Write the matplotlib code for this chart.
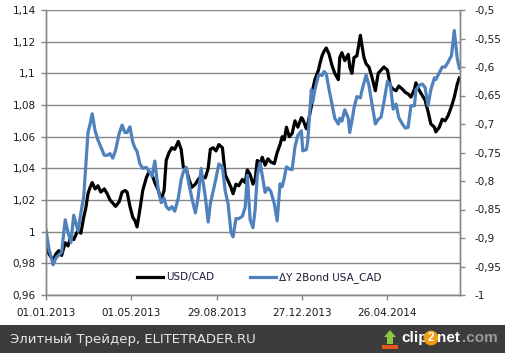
import matplotlib
matplotlib.use("Agg")
import matplotlib.pyplot as plt
from matplotlib.patches import Rectangle, Polygon
import pandas as pd

# даты наблюдений
dates = [
    "2013-01-01", "2013-01-05", "2013-01-11", "2013-01-15", "2013-01-19", "2013-01-23",
    "2013-01-28", "2013-02-01", "2013-02-05", "2013-02-09", "2013-02-15", "2013-02-19",
    "2013-02-23", "2013-02-26", "2013-03-01", "2013-03-04", "2013-03-07", "2013-03-11",
    "2013-03-15", "2013-03-19", "2013-03-24", "2013-03-28", "2013-04-01", "2013-04-05",
    "2013-04-09", "2013-04-14", "2013-04-18", "2013-04-22", "2013-04-25", "2013-04-29",
    "2013-05-03", "2013-05-06", "2013-05-09", "2013-05-13", "2013-05-17", "2013-05-22",
    "2013-05-26", "2013-05-30", "2013-06-03", "2013-06-08", "2013-06-12", "2013-06-16",
    "2013-06-19", "2013-06-23", "2013-06-27", "2013-07-01", "2013-07-06", "2013-07-10",
    "2013-07-13", "2013-07-17", "2013-07-21", "2013-07-25", "2013-07-30", "2013-08-03",
    "2013-08-07", "2013-08-13", "2013-08-17", "2013-08-20", "2013-08-24", "2013-08-28",
    "2013-09-01", "2013-09-06", "2013-09-10", "2013-09-14", "2013-09-18", "2013-09-21",
    "2013-09-25", "2013-09-29", "2013-10-04", "2013-10-08", "2013-10-11", "2013-10-15",
    "2013-10-19", "2013-10-22", "2013-10-25", "2013-10-29", "2013-11-01", "2013-11-05",
    "2013-11-09", "2013-11-13", "2013-11-18", "2013-11-22", "2013-11-26", "2013-11-29",
    "2013-12-02", "2013-12-05", "2013-12-09", "2013-12-13", "2013-12-17", "2013-12-21",
    "2013-12-26", "2013-12-28", "2014-01-02", "2014-01-04", "2014-01-09", "2014-01-11",
    "2014-01-14", "2014-01-19", "2014-01-21", "2014-01-24", "2014-01-27", "2014-01-30",
    "2014-02-03", "2014-02-07", "2014-02-11", "2014-02-16", "2014-02-18", "2014-02-21",
    "2014-02-25", "2014-03-02", "2014-03-04", "2014-03-07", "2014-03-10", "2014-03-14",
    "2014-03-19", "2014-03-21", "2014-03-24", "2014-03-27", "2014-03-31", "2014-04-04",
    "2014-04-09", "2014-04-13", "2014-04-17", "2014-04-21", "2014-04-26", "2014-04-30",
    "2014-05-04", "2014-05-08", "2014-05-12", "2014-05-17", "2014-05-21", "2014-05-25",
    "2014-05-29", "2014-06-03", "2014-06-05", "2014-06-10", "2014-06-14", "2014-06-18",
    "2014-06-22", "2014-06-26", "2014-07-01", "2014-07-03", "2014-07-08", "2014-07-12",
    "2014-07-16", "2014-07-20", "2014-07-25", "2014-07-29", "2014-08-02", "2014-08-05",
]

# USD/CAD (левая ось)
usd_cad = [
    0.990, 0.986, 0.982, 0.986, 0.988, 0.985, 0.993, 0.991, 0.997, 0.995, 1.001, 0.999,
    1.009, 1.015, 1.024, 1.028, 1.031, 1.027, 1.029, 1.025, 1.027, 1.024, 1.020, 1.018,
    1.016, 1.019, 1.025, 1.026, 1.025, 1.016, 1.009, 1.007, 1.003, 1.014, 1.026, 1.034,
    1.038, 1.036, 1.031, 1.026, 1.020, 1.026, 1.045, 1.050, 1.053, 1.052, 1.057, 1.052,
    1.041, 1.040, 1.033, 1.028, 1.030, 1.033, 1.035, 1.034, 1.040, 1.052, 1.053, 1.051,
    1.055, 1.053, 1.036, 1.032, 1.028, 1.024, 1.030, 1.029, 1.033, 1.031, 1.039, 1.036,
    1.030, 1.033, 1.045, 1.043, 1.047, 1.042, 1.046, 1.044, 1.043, 1.050, 1.055, 1.060,
    1.058, 1.066, 1.060, 1.062, 1.070, 1.066, 1.072, 1.071, 1.065, 1.068, 1.079, 1.090,
    1.096, 1.102, 1.106, 1.111, 1.114, 1.116, 1.112, 1.105, 1.100, 1.096, 1.110, 1.113,
    1.108, 1.112, 1.104, 1.100, 1.110, 1.111, 1.124, 1.118, 1.110, 1.106, 1.104, 1.098,
    1.089, 1.100, 1.102, 1.104, 1.102, 1.092, 1.090, 1.089, 1.092, 1.090, 1.088, 1.087,
    1.085, 1.090, 1.094, 1.089, 1.086, 1.083, 1.076, 1.068, 1.066, 1.063, 1.066, 1.071,
    1.070, 1.073, 1.079, 1.085, 1.093, 1.097,
]

# ΔY 2Bond USA_CAD (правая ось)
bond_spread = [
    -0.886, -0.918, -0.947, -0.935, -0.930, -0.925, -0.868, -0.890, -0.908, -0.860, -0.888, -0.856,
    -0.828, -0.770, -0.715, -0.700, -0.682, -0.712, -0.728, -0.740, -0.755, -0.755, -0.752, -0.760,
    -0.745, -0.716, -0.702, -0.715, -0.715, -0.705, -0.732, -0.742, -0.748, -0.770, -0.778, -0.776,
    -0.783, -0.792, -0.765, -0.818, -0.838, -0.830, -0.845, -0.850, -0.845, -0.853, -0.830, -0.798,
    -0.784, -0.776, -0.806, -0.830, -0.856, -0.828, -0.778, -0.828, -0.872, -0.840, -0.818, -0.795,
    -0.770, -0.775, -0.818, -0.840, -0.890, -0.898, -0.866, -0.866, -0.862, -0.846, -0.790, -0.868,
    -0.882, -0.850, -0.790, -0.768, -0.790, -0.820, -0.812, -0.818, -0.840, -0.870, -0.805, -0.810,
    -0.795, -0.775, -0.779, -0.780, -0.740, -0.720, -0.712, -0.747, -0.745, -0.730, -0.640, -0.662,
    -0.640, -0.615, -0.613, -0.615, -0.608, -0.612, -0.640, -0.665, -0.690, -0.700, -0.690, -0.695,
    -0.675, -0.690, -0.715, -0.695, -0.672, -0.652, -0.654, -0.642, -0.628, -0.614, -0.632, -0.663,
    -0.700, -0.692, -0.688, -0.662, -0.625, -0.630, -0.674, -0.665, -0.689, -0.700, -0.707, -0.706,
    -0.668, -0.668, -0.640, -0.632, -0.630, -0.636, -0.668, -0.640, -0.619, -0.622, -0.610, -0.600,
    -0.600, -0.592, -0.580, -0.536, -0.584, -0.602,
]

left_ticks = [0.96, 0.98, 1.0, 1.02, 1.04, 1.06, 1.08, 1.1, 1.12, 1.14]
right_ticks = [-1.0, -0.95, -0.9, -0.85, -0.8, -0.75, -0.7, -0.65, -0.6, -0.55, -0.5]
x_tick_dates = ["2013-01-01", "2013-05-01", "2013-08-29", "2013-12-27", "2014-04-26"]
x_start, x_end = "2013-01-01", "2014-08-06"

COLOR_USD = "#000000"
COLOR_BOND = "#4F81BD"
GRID = "#868686"
TXT = "#1a1a1a"


def comma(v):
    return f"{v:g}".replace(".", ",")


x = pd.to_datetime(dates)

fig = plt.figure(figsize=(5.06, 3.53), dpi=100)
fig.patch.set_facecolor("white")
ax = fig.add_axes([46 / 506, 1 - 295 / 353, 414 / 506, 285 / 353])
ax2 = ax.twinx()

l_usd, = ax.plot(x, usd_cad, color=COLOR_USD, linewidth=2.3, solid_joinstyle="round")
l_bond, = ax2.plot(x, bond_spread, color=COLOR_BOND, linewidth=2.3, solid_joinstyle="round")

ax.set_xlim(pd.Timestamp(x_start), pd.Timestamp(x_end))
ax.set_ylim(0.96, 1.14)
ax2.set_ylim(-1.0, -0.5)

ax.set_yticks(left_ticks)
ax.set_yticklabels([comma(v) for v in left_ticks])
ax2.set_yticks(right_ticks)
ax2.set_yticklabels([comma(v) for v in right_ticks])
xt = pd.to_datetime(x_tick_dates)
ax.set_xticks(xt)
ax.set_xticklabels([d.strftime("%d.%m.%Y") for d in xt])

# сетка только по левой оси
ax.set_axisbelow(True)
ax.grid(True, axis="y", color=GRID, linewidth=1.0)
ax.grid(False, axis="x")

for a in (ax, ax2):
    a.spines["top"].set_visible(False)
    for s in ("left", "right", "bottom"):
        a.spines[s].set_color(GRID)
        a.spines[s].set_linewidth(1.0)
    a.tick_params(colors=GRID, labelcolor=TXT, labelsize=7.5, length=3.5, width=1.0, direction="out")

ax.tick_params(axis="y", pad=4)
ax2.tick_params(axis="y", pad=7)
ax.tick_params(axis="x", pad=6)

ax2.legend([l_usd, l_bond], ["USD/CAD", "ΔY 2Bond USA_CAD"], loc="center",
           bbox_to_anchor=(0.516, 0.06), ncol=2, frameon=False, fontsize=7.5,
           handlelength=2.5, handletextpad=0.3, columnspacing=3.4, labelcolor="#1a1a3a")

# нижняя плашка
fig.patches.append(Rectangle((0, 0), 1, 28 / 353, transform=fig.transFigure,
                             facecolor="#3c3c3c", edgecolor="none", zorder=0))
fig.text(10 / 506, 1 - 339 / 353, "Элитный Трейдер, ELITETRADER.RU", color="#e6e6e6",
         fontsize=9.5, va="center", ha="left")

# логотип clip2net
fig.patches.append(Polygon([(390 / 506, 1 - 330 / 353), (384 / 506, 1 - 337 / 353),
                            (387 / 506, 1 - 337 / 353), (387 / 506, 1 - 344 / 353),
                            (393 / 506, 1 - 344 / 353), (393 / 506, 1 - 337 / 353),
                            (396 / 506, 1 - 337 / 353)],
                           closed=True, transform=fig.transFigure, facecolor="#8cc63f",
                           edgecolor="none"))
fig.patches.append(Rectangle((382 / 506, 1 - 349 / 353), 16 / 506, 4 / 353,
                             transform=fig.transFigure, facecolor="#e8541e", edgecolor="none"))
logo = dict(fontsize=11, fontweight="bold", family="Liberation Sans", va="center", ha="left")
fig.text(401 / 506, 1 - 338 / 353, "clip", color="white", **logo)
fig.text(431 / 506, 1 - 338 / 353, "2", color="white", fontsize=8.5, fontweight="bold",
         family="Liberation Sans", va="center", ha="center",
         bbox=dict(boxstyle="circle,pad=0.12", facecolor="#f39c12", edgecolor="none"))
fig.text(437 / 506, 1 - 338 / 353, "net", color="white", **logo)
fig.text(462 / 506, 1 - 338 / 353, ".com", color="#9a9a9a", **logo)

fig.savefig("out.png", dpi=100)
